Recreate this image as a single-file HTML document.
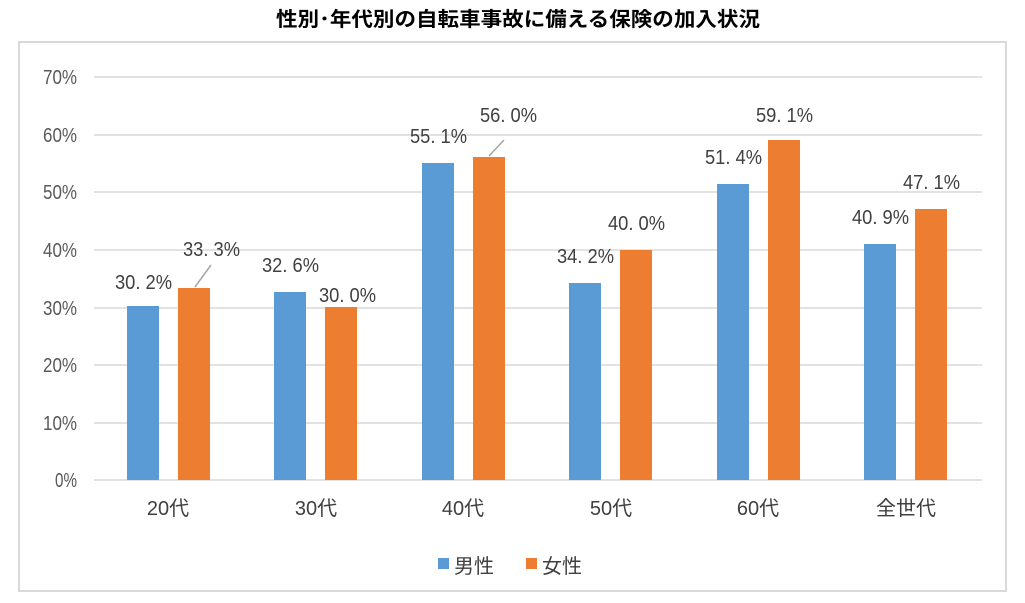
<!DOCTYPE html>
<html><head><meta charset="utf-8"><style>
body{margin:0;background:#fff}
svg text{font-family:"Liberation Sans","Noto Sans CJK JP",sans-serif}
</style></head><body>
<svg width="1025" height="598" viewBox="0 0 1025 598" xmlns="http://www.w3.org/2000/svg">
<rect x="0" y="0" width="1025" height="598" fill="#fff"/>
<text x="276" y="26" font-size="20" font-weight="bold" fill="#000" textLength="484" lengthAdjust="spacingAndGlyphs">性別･年代別の自転車事故に備える保険の加入状況</text>
<rect x="19" y="42" width="987" height="549" fill="none" stroke="#d9d9d9" stroke-width="2"/>
<g stroke="#d9d9d9" stroke-width="1.5">
<line x1="94" x2="982" y1="77" y2="77"/><line x1="94" x2="982" y1="135" y2="135"/>
<line x1="94" x2="982" y1="192" y2="192"/><line x1="94" x2="982" y1="250" y2="250"/>
<line x1="94" x2="982" y1="308" y2="308"/><line x1="94" x2="982" y1="365" y2="365"/>
<line x1="94" x2="982" y1="423" y2="423"/><line x1="94" x2="982" y1="480" y2="480"/>
</g>
<g font-size="20" fill="#595959">
<text x="43" y="84" textLength="34" lengthAdjust="spacingAndGlyphs">70%</text>
<text x="43" y="142" textLength="34" lengthAdjust="spacingAndGlyphs">60%</text>
<text x="43" y="199" textLength="34" lengthAdjust="spacingAndGlyphs">50%</text>
<text x="43" y="257" textLength="34" lengthAdjust="spacingAndGlyphs">40%</text>
<text x="43" y="315" textLength="34" lengthAdjust="spacingAndGlyphs">30%</text>
<text x="43" y="372" textLength="34" lengthAdjust="spacingAndGlyphs">20%</text>
<text x="43" y="430" textLength="34" lengthAdjust="spacingAndGlyphs">10%</text>
<text x="55" y="487" textLength="22" lengthAdjust="spacingAndGlyphs">0%</text>
</g>
<g fill="#5b9bd5">
<rect x="127" y="306" width="32" height="174"/>
<rect x="274" y="292" width="32" height="188"/>
<rect x="422" y="163" width="32" height="317"/>
<rect x="569" y="283" width="32" height="197"/>
<rect x="717" y="184" width="32" height="296"/>
<rect x="864" y="244" width="32" height="236"/>
</g>
<g fill="#ed7d31">
<rect x="178" y="288" width="32" height="192"/>
<rect x="325" y="307" width="32" height="173"/>
<rect x="473" y="157" width="32" height="323"/>
<rect x="620" y="250" width="32" height="230"/>
<rect x="768" y="140" width="32" height="340"/>
<rect x="915" y="209" width="32" height="271"/>
</g>
<g stroke="#a6a6a6" stroke-width="1.5">
<line x1="195" y1="287" x2="211" y2="265"/>
<line x1="489" y1="156" x2="504" y2="140"/>
</g>
<g font-size="20" fill="#404040">
<text x="115" y="289" textLength="57" lengthAdjust="spacingAndGlyphs">30. 2%</text>
<text x="183" y="256" textLength="57" lengthAdjust="spacingAndGlyphs">33. 3%</text>
<text x="262" y="272" textLength="57" lengthAdjust="spacingAndGlyphs">32. 6%</text>
<text x="319" y="302" textLength="57" lengthAdjust="spacingAndGlyphs">30. 0%</text>
<text x="410" y="143" textLength="57" lengthAdjust="spacingAndGlyphs">55. 1%</text>
<text x="480" y="122" textLength="57" lengthAdjust="spacingAndGlyphs">56. 0%</text>
<text x="557" y="263" textLength="57" lengthAdjust="spacingAndGlyphs">34. 2%</text>
<text x="608" y="230" textLength="57" lengthAdjust="spacingAndGlyphs">40. 0%</text>
<text x="705" y="164" textLength="57" lengthAdjust="spacingAndGlyphs">51. 4%</text>
<text x="756" y="122" textLength="57" lengthAdjust="spacingAndGlyphs">59. 1%</text>
<text x="852" y="224" textLength="57" lengthAdjust="spacingAndGlyphs">40. 9%</text>
<text x="903" y="189" textLength="57" lengthAdjust="spacingAndGlyphs">47. 1%</text>
</g>
<g font-size="20" fill="#404040" text-anchor="middle">
<text x="168" y="515">20代</text><text x="316" y="515">30代</text><text x="463" y="515">40代</text>
<text x="611" y="515">50代</text><text x="758" y="515">60代</text><text x="906" y="515">全世代</text>
</g>
<rect x="438" y="558" width="11" height="11" fill="#5b9bd5"/>
<text x="454" y="573" font-size="20" fill="#404040">男性</text>
<rect x="526" y="558" width="11" height="11" fill="#ed7d31"/>
<text x="542" y="573" font-size="20" fill="#404040">女性</text>
</svg>
</body></html>
